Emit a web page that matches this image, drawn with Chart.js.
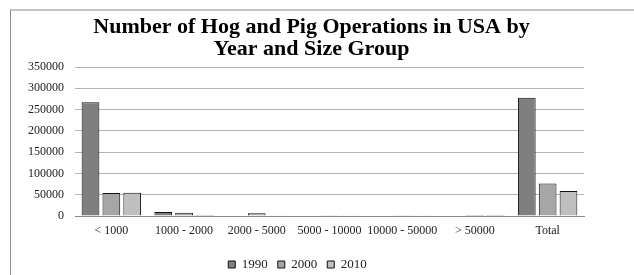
<!DOCTYPE html>
<html>
<head>
<meta charset="utf-8">
<script src="https://cdn.jsdelivr.net/npm/chart.js@4"></script>
<style>
  body { margin: 0; background: #fff; }
  #wrap { position: relative; width: 634px; height: 275px; }
  #frame { position: absolute; left: 10px; top: 9px; right: 0; bottom: 0;
           border-top: 2px solid #c4c4c4; border-left: 1px solid #8c8c8c; pointer-events: none; }
</style>
</head>
<body>
<div id="wrap">
  <div id="frame"></div>
  <canvas id="hogChart"></canvas>
</div>
<script>
// Data
const sizeGroups = ['< 1000', '1000 - 2000', '2000 - 5000', '5000 - 10000', '10000 - 50000', '> 50000', 'Total'];
const ops1990 = [267000, 9500, null, null, null, null, 278000];
const ops2000 = [54000, 7800, 6400, 1700, 1600, 150, 76500];
const ops2010 = [54500, 2400, 2000, 400, 400, 150, 59000];
const yTicks = [0, 50000, 100000, 150000, 200000, 250000, 300000, 350000];

const serif = "'Liberation Serif', 'Times New Roman', serif";

// title sits a little right of centre, legend a bit lower than Chart.js puts it
const nudge = {
    id: 'nudge',
    afterLayout(chart) {
        const t = chart.titleBlock;
        if (t) { t.left += 14; t.right += 14; }
        const l = chart.legend;
        if (l) {
            l.top += 6; l.bottom += 6;
            l.legendHitBoxes.forEach(h => { h.top += 6; });
        }
    }
};

const ctx = document.getElementById('hogChart').getContext('2d');
const hogChart = new Chart(ctx, {
    type: 'bar',
    data: {
        labels: sizeGroups,
        datasets: [
            { label: '1990', data: ops1990, backgroundColor: '#7f7f7f', borderColor: '#111', borderWidth: 1 },
            { label: '2000', data: ops2000, backgroundColor: '#a6a6a6', borderColor: '#111', borderWidth: 1 },
            { label: '2010', data: ops2010, backgroundColor: '#bfbfbf', borderColor: '#111', borderWidth: 1 }
        ]
    },
    plugins: [nudge],
    options: {
        responsive: true,
        maintainAspectRatio: false,
        animation: false,
        categoryPercentage: 0.86,
        barPercentage: 0.85,
        layout: { padding: { left: 11, right: 50, top: 16, bottom: 0 } },
        plugins: {
            title: {
                display: true,
                text: ['Number of Hog and Pig Operations in USA by', 'Year and Size Group'],
                color: '#000',
                font: { family: serif, size: 22, weight: 'bold', lineHeight: 1.0 },
                padding: { top: 0, bottom: 7 }
            },
            legend: {
                position: 'bottom',
                labels: {
                    boxWidth: 7,
                    boxHeight: 7,
                    padding: 10,
                    color: '#222',
                    font: { family: serif, size: 13 }
                }
            },
            tooltip: { enabled: false }
        },
        scales: {
            x: {
                afterFit: s => { s.height = 26; },
                grid: { display: false, drawTicks: false },
                border: { display: true, color: '#8a8a8a', width: 1 },
                ticks: { color: '#222', font: { family: serif, size: 12 }, padding: 8, maxRotation: 0, autoSkip: false }
            },
            y: {
                min: 0,
                max: 350000,
                afterFit: s => { s.width = 64; },
                afterBuildTicks: s => { s.ticks = yTicks.map(v => ({ value: v })); },
                grid: { color: '#b4b4b4', lineWidth: 1, drawTicks: false },
                border: { display: false },
                ticks: { color: '#222', font: { family: serif, size: 12 }, padding: 11, callback: v => String(v) }
            }
        }
    }
});
</script>
</body>
</html>
